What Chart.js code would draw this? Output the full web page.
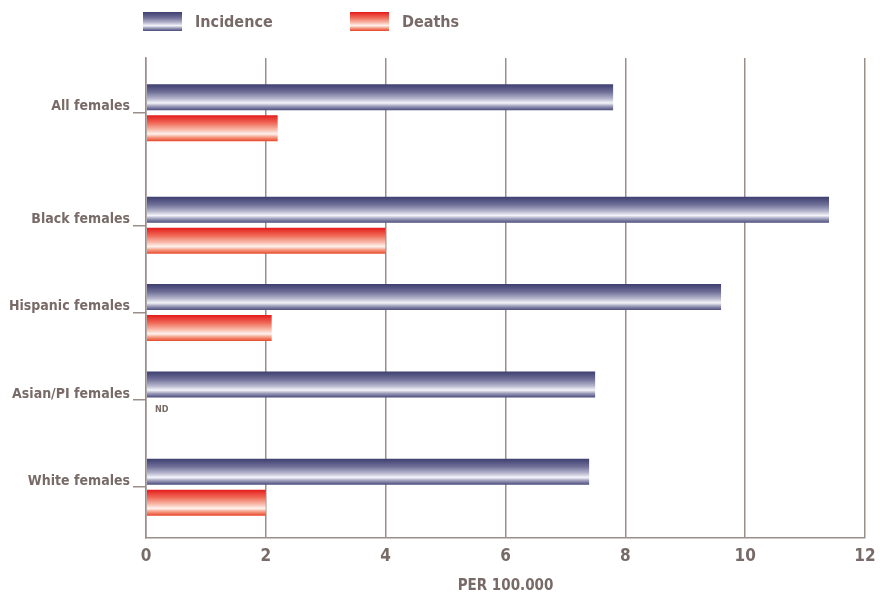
<!DOCTYPE html>
<html>
<head>
<meta charset="utf-8">
<title>Incidence and deaths per 100.000 females</title>
<script src="https://cdn.jsdelivr.net/npm/chart.js@4.4.1/dist/chart.umd.min.js"></script>
<style>
    body { margin: 0; background: #fff; }
    #wrap { position: relative; width: 888px; height: 592px; }
    .key {
        position: absolute; top: 12px; display: flex; align-items: center;
        font: bold 16px "Liberation Sans Narrow", "DejaVu Sans Condensed", sans-serif;
        color: #786b67; line-height: 19px;
    }
    .swatch { width: 39px; height: 19px; margin-right: 13px; }
    .swatch.incidence {
        background: linear-gradient(to bottom, #3e3e70 0%, #6f6f98 30%, #b4b4cc 55%, #f4f4fa 72%, #9a9ab8 85%, #4a4a7c 100%);
    }
    .swatch.deaths {
        background: linear-gradient(to bottom, #e41b1b 0%, #f06a58 30%, #f8b8a8 55%, #fff2ee 72%, #f59a80 85%, #e8452a 100%);
    }
</style>
</head>
<body>
<div id="wrap">
    <canvas id="chart"></canvas>
    <div class="key" style="left:143px"><span class="swatch incidence"></span>Incidence</div>
    <div class="key" style="left:350px"><span class="swatch deaths"></span>Deaths</div>
</div>
<script>
// data (per 100.000)
const categories = ["All females", "Black females", "Hispanic females", "Asian/PI females", "White females"];
const incidence = [7.8, 11.4, 9.6, 7.5, 7.4];
const deaths = [2.2, 4.0, 2.1, null, 2.0];   // null = ND (no data)

const FONT = '"Liberation Sans Narrow", "DejaVu Sans Condensed", sans-serif';
const TEXT = "#786b67";
const GRID = "#9a8e8b";

// the "All females" total row is set a bit apart from the breakdown rows
const GROUP_GAP = 0.29;
const rowPos = i => i + (i > 0 ? GROUP_GAP : 0);

const BAR_SLOT = 31;  // px per bar incl. gap
const BAR_GAP = 2.5;  // transparent border top/bottom

const incidenceStops = [[0, "#3e3e70"], [0.3, "#6f6f98"], [0.55, "#b4b4cc"], [0.72, "#f4f4fa"], [0.85, "#9a9ab8"], [1, "#4a4a7c"]];
const deathStops = [[0, "#e41b1b"], [0.3, "#f06a58"], [0.55, "#f8b8a8"], [0.72, "#fff2ee"], [0.85, "#f59a80"], [1, "#e8452a"]];

// vertical "tube" gradient for each bar
function tube(stops) {
    return function(ctx) {
        const chart = ctx.chart;
        const yScale = chart.scales.y;
        if (ctx.type !== "data" || !yScale || !ctx.raw) return stops[0][1];
        const centre = yScale.getPixelForValue(ctx.raw.y);
        if (!isFinite(centre)) return stops[0][1];
        const top = ctx.datasetIndex === 0 ? centre - BAR_SLOT + BAR_GAP : centre + BAR_GAP;
        const g = chart.ctx.createLinearGradient(0, top, 0, top + BAR_SLOT - 2 * BAR_GAP);
        stops.forEach(s => g.addColorStop(s[0], s[1]));
        return g;
    };
}

function points(values) {
    return values
        .map((v, i) => ({ x: v, y: rowPos(i) }))
        .filter(p => p.x !== null);
}

const ndLabels = {
    id: "ndLabels",
    afterDatasetsDraw(chart) {
        const { ctx, scales: { x, y } } = chart;
        ctx.save();
        ctx.font = "bold 9px " + FONT;
        ctx.fillStyle = TEXT;
        ctx.textBaseline = "middle";
        deaths.forEach((v, i) => {
            if (v !== null) return;
            ctx.fillText("ND", x.getPixelForValue(0) + 9, y.getPixelForValue(rowPos(i)) + 10);
        });
        ctx.restore();
    }
};

new Chart(document.getElementById("chart"), {
    type: "bar",
    data: {
        datasets: [{
            label: "Incidence",
            data: points(incidence),
            backgroundColor: tube(incidenceStops)
        }, {
            label: "Deaths",
            data: points(deaths),
            backgroundColor: tube(deathStops)
        }]
    },
    options: {
        indexAxis: "y",
        responsive: true,
        maintainAspectRatio: false,
        devicePixelRatio: 1,
        animation: false,
        barThickness: BAR_SLOT,
        borderWidth: { top: BAR_GAP, bottom: BAR_GAP, left: 0, right: 0 },
        borderColor: "rgba(0,0,0,0)",
        inflateAmount: 0,
        layout: { padding: { top: 58, right: 23, bottom: 0, left: 0 } },
        scales: {
            x: {
                min: 0,
                max: 12,
                ticks: {
                    stepSize: 2,
                    color: TEXT,
                    padding: 8,
                    font: { family: FONT, size: 17, weight: "bold" }
                },
                grid: { color: GRID, lineWidth: 1.5, drawTicks: false },
                border: { color: GRID, width: 1.5 },
                title: {
                    display: true,
                    text: "PER 100.000",
                    color: TEXT,
                    padding: { top: 0, bottom: 0 },
                    font: { family: FONT, size: 15, weight: "bold", lineHeight: 0.8 }
                },
                afterFit(scale) { scale.height = 54; }
            },
            y: {
                type: "linear",
                reverse: true,
                offset: false,
                min: rowPos(0) - 0.627,
                max: rowPos(categories.length - 1) + 0.582,
                afterBuildTicks(scale) {
                    scale.ticks = categories.map((c, i) => ({ value: rowPos(i) }));
                },
                ticks: {
                    autoSkip: false,
                    color: TEXT,
                    padding: 3,
                    labelOffset: -6,
                    font: { family: FONT, size: 14, weight: "bold" },
                    callback: (value, index) => categories[index]
                },
                grid: { color: GRID, lineWidth: 1.5, offset: false, drawOnChartArea: false, tickLength: 13 },
                border: { color: GRID, width: 1.5 },
                afterFit(scale) { scale.width = 146; }
            }
        },
        plugins: {
            legend: { display: false },
            tooltip: { enabled: false }
        }
    },
    plugins: [ndLabels]
});
</script>
</body>
</html>
